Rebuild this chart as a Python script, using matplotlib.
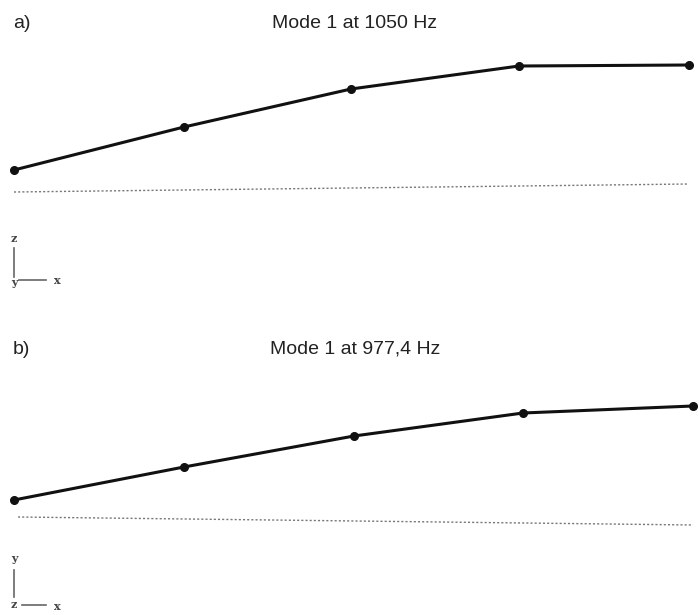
import matplotlib.pyplot as plt
import numpy as np

# node positions along the beam (pixel-like units) and deflected heights
nodes_a = [14, 184, 351, 519, 689]
shape_a = [170, 127, 89, 66, 65]
nodes_b = [14, 184, 354, 523, 693]
shape_b = [500, 467, 436, 413, 406]

# undeformed reference lines
ref_a_x = [14, 689]
ref_a_y = [192, 184]
ref_b_x = [18, 693]
ref_b_y = [517, 525]

labels = ['a)', 'b)']
titles = ['Mode 1 at 1050 Hz', 'Mode 1 at 977,4 Hz']

fig = plt.figure(figsize=(7, 6.15), dpi=100)
ax = fig.add_axes([0, 0, 1, 1])
ax.set_xlim(0, 700)
ax.set_ylim(615, 0)
ax.axis('off')

gray = '#222222'
ax.plot(nodes_a, shape_a, color='#111111', lw=2.2, marker='o', ms=5.5)
ax.plot(nodes_b, shape_b, color='#111111', lw=2.2, marker='o', ms=5.5)
ax.plot(ref_a_x, ref_a_y, color='#777777', lw=1.0, ls=(0, (1.5, 1.5)))
ax.plot(ref_b_x, ref_b_y, color='#777777', lw=1.0, ls=(0, (1.5, 1.5)))

for lab, tit, ty in zip(labels, titles, [23, 349]):
    ax.text(13, ty, lab, fontsize=14, family='Liberation Sans', va='center', ha='left', color=gray)
    ax.text(355, ty, tit, fontsize=14, family='Liberation Sans', va='center', ha='center', color=gray)

# coordinate triads
tri = dict(fontsize=8, family='DejaVu Serif', weight='bold', color='#444444', ha='center', va='center')
ax.plot([14, 14], [248, 277], color='#666666', lw=1.2)
ax.plot([19, 46], [280, 280], color='#666666', lw=1.2)
ax.text(14, 239, 'z', **tri)
ax.text(14, 282, 'y', **tri)
ax.text(57, 281, 'x', **tri)

ax.plot([14, 14], [570, 597], color='#666666', lw=1.2)
ax.plot([22, 46], [605, 605], color='#666666', lw=1.2)
ax.text(14, 559, 'y', **tri)
ax.text(14, 605, 'z', **tri)
ax.text(57, 606, 'x', **tri)

fig.savefig('out.png', dpi=100)
